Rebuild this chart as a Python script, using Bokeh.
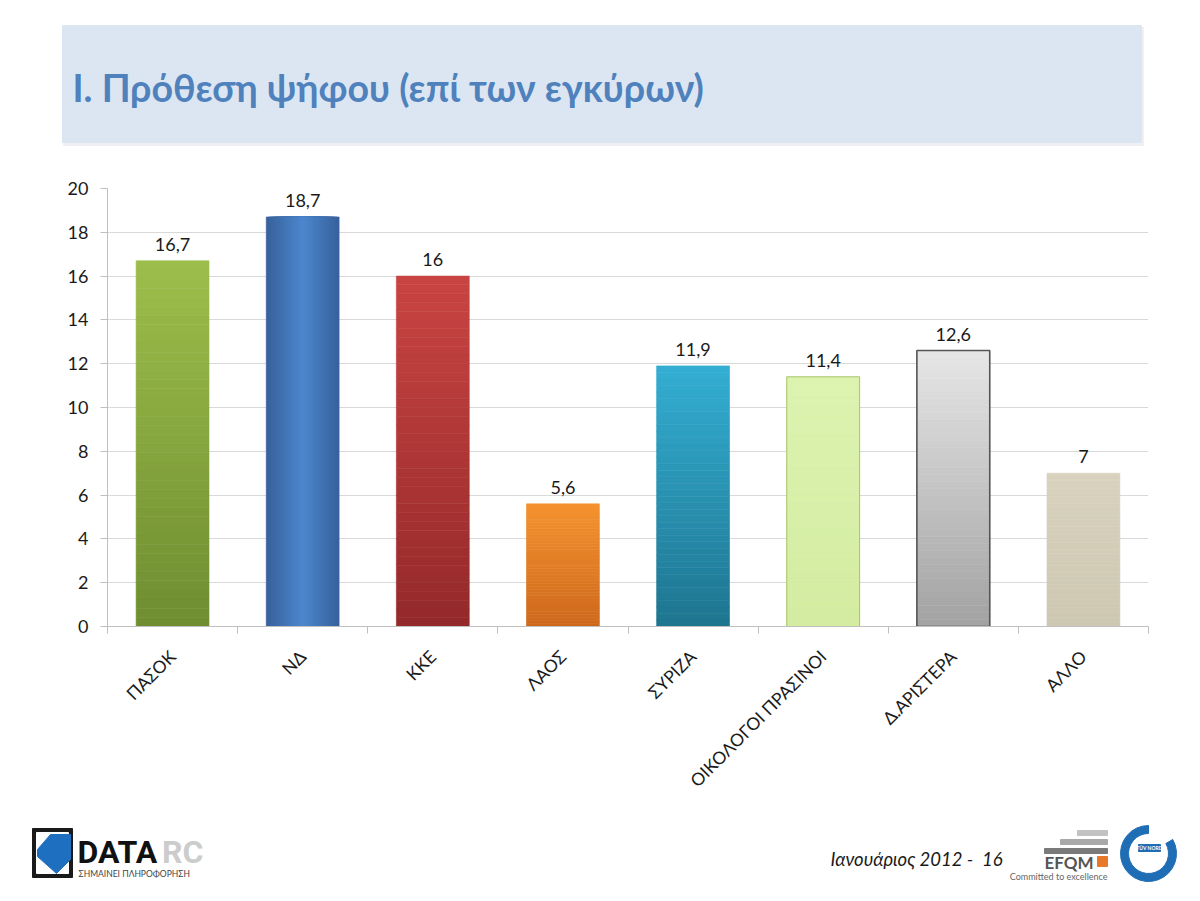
from math import pi
from bokeh.plotting import figure
from bokeh.layouts import column
from bokeh.models import ColumnDataSource, Range1d, FixedTicker, LabelSet
from bokeh.core.properties import value
from bokeh.embed import file_html
from bokeh.resources import INLINE

# ---------------- data ----------------
parties = ["ΠΑΣΟΚ", "ΝΔ", "ΚΚΕ", "ΛΑΟΣ", "ΣΥΡΙΖΑ", "ΟΙΚΟΛΟΓΟΙ ΠΡΑΣΙΝΟΙ", "Δ.ΑΡΙΣΤΕΡΑ", "ΆΛΛΟ"]
shares = [16.7, 18.7, 16, 5.6, 11.9, 11.4, 12.6, 7]
y_ticks = [0, 2, 4, 6, 8, 10, 12, 14, 16, 18, 20]
title_text = "Ι. Πρόθεση ψήφου (επί των εγκύρων)"
date_text = "Ιανουάριος 2012 -  16"

# ---------------- styles ----------------
bar_top_colors = ["#9dbe4b", "#4b86cc", "#c94442", "#f5932f", "#33aed2", "#dcf3b0", "#e6e6e6", "#d8d2be"]
bar_bottom_colors = ["#6e8d31", "#38629d", "#94292a", "#cd681c", "#1e7590", "#d3eca0", "#a2a2a2", "#cec7b1"]
gradient_dir = ["v", "h", "v", "v", "v", "v", "v", "v"]
bar_edge_colors = [None, None, None, None, None, "#a9c46e", "#555555", None]
BAR_W = 0.56
FONT = "Lato"
W = 1196


def mix(c1, c2, t):
    a = [int(c1[i:i + 2], 16) for i in (1, 3, 5)]
    b = [int(c2[i:i + 2], 16) for i in (1, 3, 5)]
    return "#%02x%02x%02x" % tuple(round(a[k] + (b[k] - a[k]) * t) for k in range(3))


def no_align(f):
    if "frame_align" in f.properties():
        f.frame_align = False


# category slots on a numeric axis: one unit per party, centred at i + 0.5
centers = [i + 0.5 for i in range(len(parties))]
bounds = list(range(len(parties) + 1))

# gradient slices derived from the data values
xs, bots, tops, cols, widths = [], [], [], [], []
N = 40
M = 16
for c, v, ct, cb, d in zip(centers, shares, bar_top_colors, bar_bottom_colors, gradient_dir):
    if d == "v":
        for k in range(N):
            xs.append(c)
            bots.append(v * k / N)
            tops.append(v * (k + 1) / N)
            cols.append(mix(cb, ct, (k + 0.5) / N))
            widths.append(BAR_W)
    else:
        for k in range(M):
            xs.append(c)
            bots.append(0)
            tops.append(v)
            cols.append(mix(cb, ct, k / (M - 1)))
            widths.append(BAR_W * (1 - k / M))

slices = ColumnDataSource(dict(x=xs, bottom=bots, top=tops, color=cols, width=widths))

# ---------------- main chart ----------------
p = figure(width=W, height=640, x_range=Range1d(0, len(parties)), y_range=Range1d(0, 20),
           output_backend="svg", toolbar_location=None,
           min_border_left=107, min_border_right=W - 1148, min_border_top=18, min_border_bottom=184)
no_align(p)
p.outline_line_color = None
p.background_fill_color = "white"
p.border_fill_color = "white"

p.vbar(x="x", bottom="bottom", top="top", width="width", fill_color="color",
       line_color="color", line_width=0.6, source=slices)

edged = [i for i, c in enumerate(bar_edge_colors) if c]
p.vbar(x=[centers[i] for i in edged], top=[shares[i] for i in edged], bottom=0, width=BAR_W,
       fill_color=None, line_color=[bar_edge_colors[i] for i in edged],
       line_width=[1.0, 1.6][:len(edged)])

labels = ColumnDataSource(dict(x=centers, y=shares,
                               label=[("%g" % v).replace(".", ",") for v in shares]))
p.add_layout(LabelSet(x="x", y="y", text="label", source=labels, y_offset=10,
                      text_align="center", text_baseline="bottom",
                      text_font=value(FONT), text_font_size=value("18px"),
                      text_color="#1a1a1a"))

# y axis and grid
p.yaxis.ticker = FixedTicker(ticks=y_ticks)
p.yaxis.axis_line_color = "#bfbfbf"
p.yaxis.major_tick_line_color = "#bfbfbf"
p.yaxis.major_tick_out = 7
p.yaxis.major_tick_in = 0
p.yaxis.minor_tick_line_color = None
p.yaxis.major_label_text_font = FONT
p.yaxis.major_label_text_font_size = "18px"
p.yaxis.major_label_text_color = "#1a1a1a"
p.yaxis.major_label_standoff = 12
p.ygrid.ticker = FixedTicker(ticks=y_ticks)
p.ygrid.grid_line_color = "#d9d9d9"
p.xgrid.grid_line_color = None

# x axis: names at slot centres, small ticks on slot boundaries
p.xaxis.ticker = FixedTicker(ticks=centers, minor_ticks=bounds)
p.xaxis.major_label_overrides = {c: name for c, name in zip(centers, parties)}
p.xaxis.axis_line_color = "#bfbfbf"
p.xaxis.major_tick_line_color = None
p.xaxis.major_tick_out = 0
p.xaxis.major_tick_in = 0
p.xaxis.minor_tick_line_color = "#bfbfbf"
p.xaxis.minor_tick_out = 7
p.xaxis.minor_tick_in = 0
p.xaxis.major_label_orientation = pi / 4
p.xaxis.major_label_standoff = 20
p.xaxis.major_label_text_font = FONT
p.xaxis.major_label_text_font_size = "17.5px"
p.xaxis.major_label_text_color = "#1a1a1a"


# ---------------- page header and footer (pixel canvases) ----------------
def canvas(h):
    f = figure(width=W, height=h, x_range=Range1d(0, W), y_range=Range1d(h, 0),
               output_backend="svg", toolbar_location=None, min_border=0,
               x_axis_location=None, y_axis_location=None)
    no_align(f)
    f.grid.visible = False
    f.outline_line_color = None
    f.background_fill_color = "white"
    f.border_fill_color = "white"
    return f


def txt(f, x, y, s, size, color, style="normal", align="left", font=FONT):
    f.text(x=[x], y=[y], text=[s], text_font=value(font), text_font_size=value(size),
           text_color=color, text_font_style=style, text_align=align, text_baseline="middle")


# header: page y 0..170
head = canvas(170)
head.quad(left=[63], right=[1143], top=[27], bottom=[145], color="#eef0f3")
head.quad(left=[62], right=[1141], top=[25], bottom=[142], color="#dce6f2")
txt(head, 72, 87, title_text, "37.5px", "#4f81bd", "bold")

# footer: page y 810..898
FY = 810
foot = canvas(88)
# DATA RC logo
foot.quad(left=[32], right=[72], top=[828 - FY], bottom=[877 - FY], color="#1a1a1a")
foot.quad(left=[36], right=[68], top=[832 - FY], bottom=[873 - FY], color="#ffffff")
foot.patch(x=[37, 50, 70, 70, 56, 37], y=[v - FY for v in [849, 834, 834, 859, 873, 856]],
           color="#1f6fc0")
txt(foot, 77, 851 - FY, "DATA", "32px", "#111111", "bold", font="Roboto")
txt(foot, 203, 851 - FY, "RC", "32px", "#cccccc", "bold", align="right", font="Roboto")
txt(foot, 78, 873 - FY, "ΣΗΜΑΙΝΕΙ ΠΛΗΡΟΦΟΡΗΣΗ", "8.5px", "#444444")

# date / page number (keep the double space visible)
txt(foot, 830, 858 - FY, date_text.replace("  ", " \u00a0"), "18.5px", "#1a1a1a", "italic")

# EFQM logo
foot.quad(left=[1077, 1060, 1044, 1097], right=[1107, 1107, 1107, 1107],
          top=[v - FY for v in [830, 839, 848, 856]], bottom=[v - FY for v in [835, 844, 853, 866]],
          color=["#c2c2c2", "#a9a9a9", "#7a7a7a", "#e8792b"])
txt(foot, 1044, 862 - FY, "EFQM", "17px", "#555555", "bold")
txt(foot, 1107, 876 - FY, "Committed to excellence", "9px", "#666666", align="right")

# certification seal
foot.annular_wedge(x=[1148], y=[853 - FY], inner_radius=20, outer_radius=28,
                   start_angle=pi / 2, end_angle=pi / 6, direction="anticlock",
                   color="#1f6db4", inner_radius_units="screen", outer_radius_units="screen")
foot.quad(left=[1138], right=[1160], top=[844 - FY], bottom=[851 - FY], color="#1f6db4")
txt(foot, 1149, 847.5 - FY, "TÜV NORD", "5px", "#ffffff", "bold", align="center")

layout = column(head, p, foot, spacing=0)
open("out.html", "w").write(file_html(layout, INLINE))
